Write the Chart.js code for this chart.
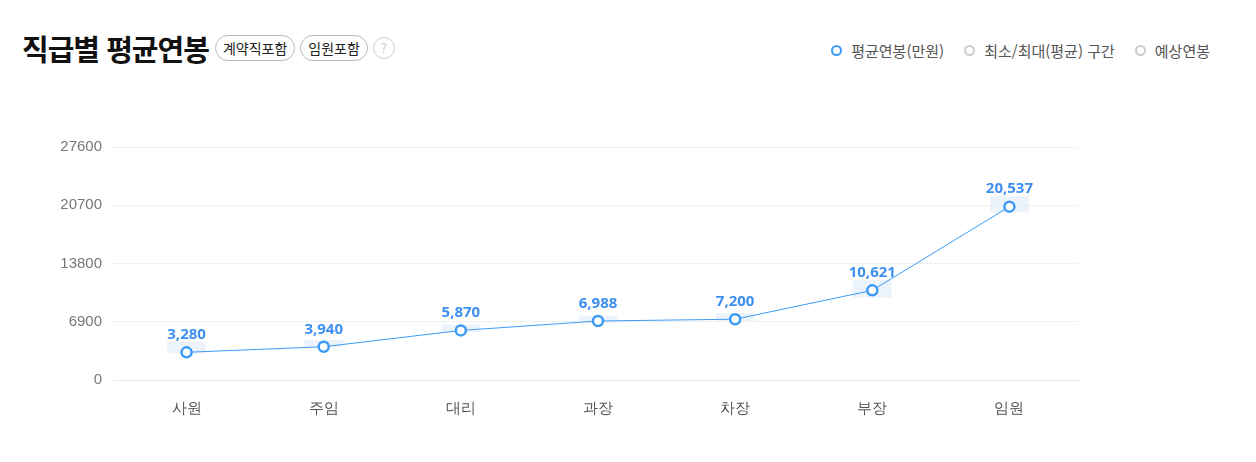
<!DOCTYPE html>
<html lang="ko">
<head>
<meta charset="UTF-8">
<title>직급별 평균연봉</title>
<script src="https://cdn.jsdelivr.net/npm/chart.js"></script>
<style>
  body { margin: 0; background: #fff; font-family: "Noto Sans CJK KR", "Noto Sans", sans-serif; }
  .title { position: absolute; left: 22px; top: 27px; display: flex; align-items: center; }
  .title h1 { font-size: 29px; font-weight: bold; margin: 0 6px 0 0; color: #111; letter-spacing: -1px; }
  .tag { border: 1px solid #bbb; border-radius: 13px; font-size: 14px; padding: 2px 7px; margin-right: 5px; color: #222; }
  .help { width: 20px; height: 20px; border: 1px solid #ccc; border-radius: 50%; color: #ccc; font-size: 13px; text-align: center; line-height: 20px; }
  .legend { position: absolute; right: 46px; top: 40px; display: flex; font-size: 15px; color: #555; }
  .legend span { display: flex; align-items: center; margin-left: 20px; }
  .legend i { width: 7px; height: 7px; border-radius: 50%; border: 2px solid #ccc; margin-right: 9px; }
  .wrap { position: absolute; left: 0; top: 120px; width: 1256px; height: 320px; }
</style>
</head>
<body>
  <div class="title">
    <h1>직급별 평균연봉</h1>
    <span class="tag">계약직포함</span>
    <span class="tag">임원포함</span>
    <span class="help">?</span>
  </div>
  <div class="legend">
    <span><i style="border-color:#3d9bf5"></i>평균연봉(만원)</span>
    <span><i></i>최소/최대(평균) 구간</span>
    <span><i></i>예상연봉</span>
  </div>
  <div class="wrap"><canvas id="salaryChart"></canvas></div>

  <script>
    const ranks = ["사원", "주임", "대리", "과장", "차장", "부장", "임원"];
    const avgSalary = [3280, 3940, 5870, 6988, 7200, 10621, 20537];
    const rangeLow = [3200, 3900, 5700, 6800, 7000, 9800, 19900];
    const rangeHigh = [4500, 4700, 6500, 7600, 7900, 11800, 21800];
    const yTicks = [0, 6900, 13800, 20700, 27600];

    const labelPlugin = {
      id: "valueLabels",
      afterDatasetsDraw(chart) {
        const ctx = chart.ctx;
        const meta = chart.getDatasetMeta(1);
        ctx.save();
        ctx.fillStyle = "#3d8ff0";
        ctx.font = "bold 15px 'Noto Sans', sans-serif";
        ctx.textAlign = "center";
        ctx.textBaseline = "bottom";
        meta.data.forEach((pt, i) => {
          ctx.fillText(avgSalary[i].toLocaleString("en-US"), pt.x, pt.y - 10);
        });
        ctx.restore();
      }
    };

    const ctx = document.getElementById("salaryChart").getContext("2d");
    new Chart(ctx, {
      data: {
        labels: ranks,
        datasets: [{
          type: "bar",
          label: "최소/최대(평균) 구간",
          data: ranks.map((_, i) => [rangeLow[i], rangeHigh[i]]),
          backgroundColor: "rgba(225,235,248,0.6)",
          barThickness: 38,
          order: 2
        }, {
          type: "line",
          label: "평균연봉(만원)",
          data: avgSalary,
          borderColor: "#3d9bf5",
          borderWidth: 1,
          pointRadius: 5,
          pointBorderWidth: 2.5,
          pointBackgroundColor: "#fff",
          pointBorderColor: "#3d9bf5",
          tension: 0,
          order: 1
        }]
      },
      options: {
        responsive: true,
        maintainAspectRatio: false,
        animation: false,
        layout: { padding: { top: 27, right: 178 } },
        plugins: { legend: { display: false }, tooltip: { enabled: false } },
        scales: {
          x: {
            offset: true,
            grid: { display: false },
            border: { color: "#e5e5e5" },
            ticks: { color: "#555", font: { size: 15 }, padding: 12 },
            afterFit: s => { s.height = 60; }
          },
          y: {
            min: 0,
            max: 27600,
            afterBuildTicks: s => { s.ticks = yTicks.map(v => ({ value: v })); },
            grid: { color: "#f0f0f0" },
            border: { display: false },
            ticks: { color: "#777", font: { size: 15 }, padding: 8, callback: v => String(v) },
            afterFit: s => { s.width = 118; }
          }
        }
      },
      plugins: [labelPlugin]
    });
  </script>
</body>
</html>
